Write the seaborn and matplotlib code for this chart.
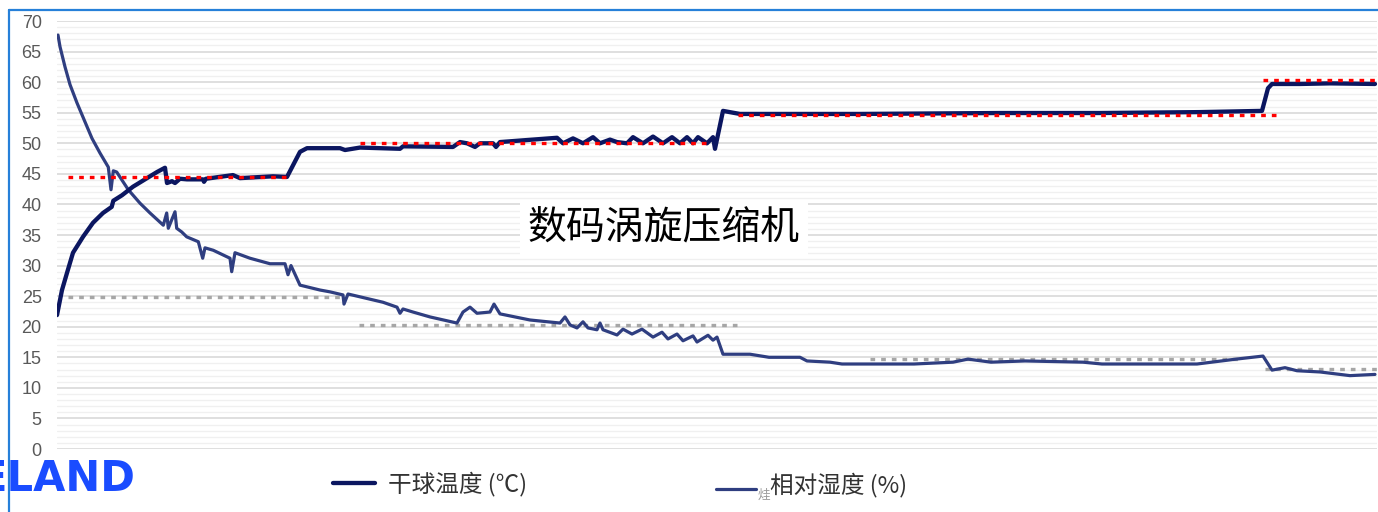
import matplotlib
matplotlib.use("Agg")
import pandas as pd
import matplotlib.pyplot as plt
from matplotlib.lines import Line2D
from matplotlib.ticker import MultipleLocator
import seaborn as sns

# sample position along the test run (x axis is not labelled)
temp_t = [57, 62, 67, 73, 83, 93, 103, 111.7, 113.3, 122, 133, 147, 157, 165, 167, 172, 175,
          180, 187, 203, 204, 206, 233, 240, 273, 287, 300, 307, 340, 345, 360, 400, 403, 453,
          460, 467, 475, 480, 493, 496, 500, 557, 563, 573, 583, 593, 600, 610, 617, 627, 633,
          643, 653, 663, 672, 680, 687, 693, 698, 707, 713, 715, 723, 733, 740, 800, 860, 1000,
          1100, 1200, 1262, 1268, 1272, 1300, 1330, 1375]
temp_v = [21.9, 26.0, 28.8, 32.1, 34.7, 37.0, 38.6, 39.6, 40.6, 41.5, 42.9, 44.3, 45.3, 46.0,
          43.5, 43.8, 43.5, 44.2, 44.1, 44.1, 43.7, 44.2, 44.8, 44.3, 44.6, 44.5, 48.6, 49.2,
          49.2, 48.9, 49.3, 49.1, 49.5, 49.4, 50.2, 50.0, 49.4, 50.0, 50.0, 49.4, 50.2, 50.9,
          50.0, 50.8, 50.0, 51.0, 50.0, 50.6, 50.2, 50.0, 51.0, 50.0, 51.1, 50.0, 51.0, 50.0,
          51.0, 50.0, 51.0, 50.0, 51.0, 49.1, 55.3, 55.0, 54.8, 54.8, 54.8, 54.95, 54.95, 55.1,
          55.3, 59.0, 59.7, 59.7, 59.8, 59.7]

rh_t = [58, 60, 65, 70, 77, 85, 92, 100, 108.3, 111, 113.3, 116.7, 128.3, 140, 150, 163.3,
        166.7, 168.3, 175, 176.7, 181.7, 186.7, 198.3, 202.7, 205, 213.3, 230, 231.7, 235, 250,
        270, 285, 288, 291, 300, 320, 330, 343, 344, 348, 383, 397, 400, 403, 413, 430, 457,
        463, 470, 477, 490, 494, 500, 530, 560, 565, 570, 577, 583, 588, 597, 600, 603, 617,
        623, 632, 642, 653, 662, 668, 677, 683, 693, 697, 708, 713, 717, 723, 750, 769, 800,
        807, 830, 842, 914, 953, 968, 991, 1025, 1083, 1102, 1197, 1236, 1263, 1272, 1285,
        1297, 1320, 1350, 1375]
rh_v = [67.7, 65.8, 62.5, 59.6, 56.6, 53.5, 50.8, 48.4, 46.1, 42.4, 45.5, 45.3, 42.4, 40.2,
        38.6, 36.6, 38.6, 36.1, 38.8, 36.1, 35.5, 34.7, 33.9, 31.2, 32.9, 32.5, 31.2, 29.0,
        32.1, 31.2, 30.3, 30.3, 28.5, 30.0, 26.8, 26.0, 25.7, 25.2, 23.7, 25.35, 24.0, 23.2,
        22.2, 22.9, 22.4, 21.6, 20.6, 22.4, 23.2, 22.2, 22.4, 23.7, 22.1, 21.1, 20.6, 21.6,
        20.3, 19.8, 20.8, 19.8, 19.5, 20.6, 19.5, 18.65, 19.6, 18.8, 19.6, 18.3, 19.1, 18.0,
        18.8, 17.7, 18.5, 17.5, 18.6, 17.8, 18.3, 15.5, 15.5, 15.0, 15.0, 14.4, 14.2, 13.9,
        13.9, 14.2, 14.7, 14.2, 14.4, 14.2, 13.9, 13.9, 14.7, 15.2, 12.9, 13.3, 12.8, 12.6,
        12.0, 12.2]

# target levels: (start, end, value)
temp_targets = [(68, 290, 44.5), (360, 710, 50.0), (738, 1280, 54.7), (1263, 1377, 60.3)]
rh_targets = [(68, 345, 24.9), (359, 737, 20.2), (870, 1243, 14.7), (1265, 1377, 13.1)]

title = "数码涡旋压缩机"
temp_label = "干球温度 (℃)"
rh_label = "相对湿度 (%)"

temp_color = "#0b1660"
rh_color = "#2f3e80"

sns.set_theme(style="white")
plt.rcParams['font.family'] = ['Noto Sans CJK SC', 'DejaVu Sans']

fig = plt.figure(figsize=(13.78, 5.12), dpi=100)
ax = fig.add_axes([57 / 1378, 63 / 512, 1320 / 1378, 428 / 512])

temp_df = pd.DataFrame({'t': temp_t, 'v': temp_v})
rh_df = pd.DataFrame({'t': rh_t, 'v': rh_v})

# grid: light lines every 1, slightly darker every 5
ax.yaxis.set_major_locator(MultipleLocator(5))
ax.yaxis.set_minor_locator(MultipleLocator(1))
ax.grid(which='major', axis='y', color='#d9d9d9', lw=1.2)
ax.grid(which='minor', axis='y', color='#f0f0f0', lw=1.0)
ax.set_axisbelow(True)

dot = (0, (1.4, 1.8))
for s, e, v in rh_targets:
    ax.plot([s, e], [v, v], color='#a6a6a6', lw=2.4, ls=dot, dash_capstyle='butt', zorder=2)
for s, e, v in temp_targets:
    ax.plot([s, e], [v, v], color='#ff0000', lw=2.4, ls=dot, dash_capstyle='butt', zorder=4)

sns.lineplot(data=rh_df, x='t', y='v', ax=ax, color=rh_color, lw=2.3, sort=False, zorder=3)
sns.lineplot(data=temp_df, x='t', y='v', ax=ax, color=temp_color, lw=3.1, sort=False, zorder=3)

ax.set_xlim(57, 1377)
ax.set_ylim(0, 70)
ax.set_xticks([])
ax.set_xlabel('')
ax.set_ylabel('')
for sp in ax.spines.values():
    sp.set_visible(False)
ax.tick_params(axis='y', which='both', length=0, pad=11, labelsize=13, labelcolor='#595959')
for lab in ax.get_yticklabels():
    lab.set_family(['Liberation Sans', 'DejaVu Sans'])

ax.text(664, 36.1, title, fontsize=28, color='black', ha='center', va='center', zorder=6,
        bbox=dict(facecolor='white', edgecolor='none', pad=6))

# legend drawn by hand (the two entries sit at slightly different heights)
fig.add_artist(Line2D([333 / 1378, 375 / 1378], [1 - 483 / 512] * 2, color=temp_color, lw=3.1))
fig.text(388 / 1378, 1 - 484 / 512, temp_label, fontsize=17, color='#333333', va='center')
fig.add_artist(Line2D([716 / 1378, 756 / 1378], [1 - 489 / 512] * 2, color=rh_color, lw=2.3))
fig.text(758 / 1378, 1 - 495 / 512, "烓", fontsize=9, color='#999999', va='center')
fig.text(770 / 1378, 1 - 485 / 512, rh_label, fontsize=17, color='#333333', va='center')

# logo and frame
fig.text(-22 / 1378, 1 - 479 / 512, "ELAND", fontsize=30, fontweight='heavy', color='#1a4cff',
         va='center', family=['DejaVu Sans'], zorder=3)
fig.add_artist(Line2D([9 / 1378, 9 / 1378], [0, 1 - 10 / 512], color='#2680d9', lw=1.6, zorder=5))
fig.add_artist(Line2D([9 / 1378, 1], [1 - 10 / 512] * 2, color='#2680d9', lw=1.6, zorder=5))

fig.savefig('out.png', dpi=100)
plt.close(fig)
